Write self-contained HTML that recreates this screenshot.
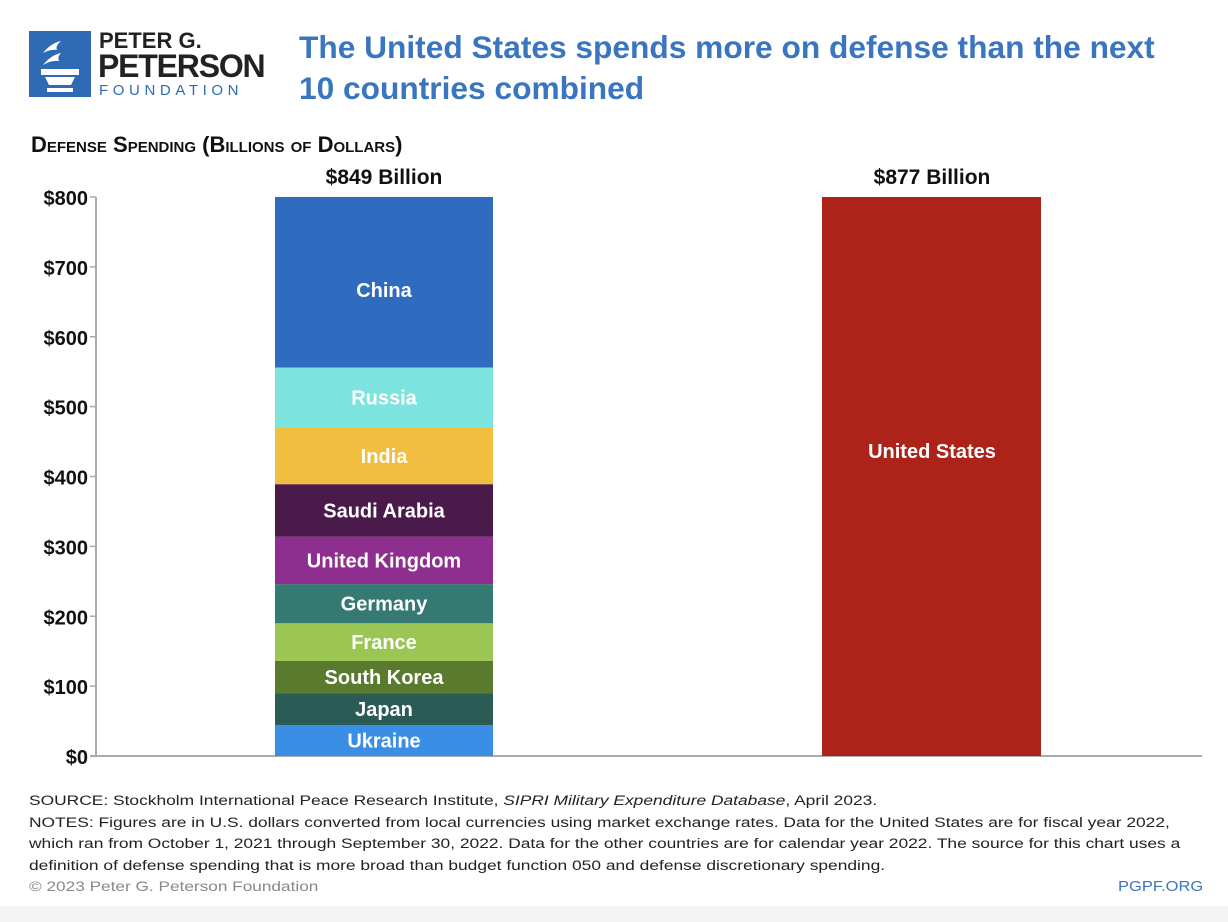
<!DOCTYPE html>
<html><head><meta charset="utf-8"><style>
body{margin:0;width:1228px;height:922px;background:#fff;font-family:"Liberation Sans",sans-serif;overflow:hidden;position:relative}
.abs{position:absolute}
</style></head><body>
<div class="abs" style="left:29px;top:31px;width:236px;height:68px">
 <svg width="62" height="68"><rect x="0" y="0" width="62" height="66" fill="#2f6bb5"/>
 <path d="M14 22 q8-10 18-12 q-6 5-4 9 q-6-1-14 3z M14 34 q8-10 18-12 q-4 4-2 8 q-8-1-16 4z" fill="#fff"/>
 <rect x="12" y="38" width="38" height="6" fill="#fff"/><path d="M16 46 h30 l-4 8 h-22z" fill="#fff"/><rect x="18" y="57" width="26" height="4" fill="#fff"/></svg>
 <div class="abs" style="left:70px;top:-1px;font-size:22px;font-weight:bold;color:#222;line-height:22px">PETER G.</div>
 <div class="abs" style="left:69px;top:19px;font-size:32px;font-weight:bold;color:#222;line-height:32px;letter-spacing:-1.2px">PETERSON</div>
 <div class="abs" style="left:70px;top:51px;font-size:15px;color:#2f6bb5;letter-spacing:4.6px">FOUNDATION</div>
</div>
<div class="abs" style="left:299px;top:27px;font-size:31.7px;font-weight:bold;color:#3a75bf;line-height:41px">The United States spends more on defense than the next<br>10 countries combined</div>
<div class="abs" style="left:31px;top:132px;font-size:22px;font-weight:bold;color:#111;font-variant:small-caps">Defense Spending (Billions of Dollars)</div>
<svg id="chart" class="abs" style="left:0;top:0" width="1228" height="922"></svg>
<div class="abs" style="left:29px;top:791px;font-size:14.2px;color:#222;line-height:21.5px;width:1100px;white-space:nowrap;transform:scaleX(1.225);transform-origin:0 0">SOURCE: Stockholm International Peace Research Institute, <i>SIPRI Military Expenditure Database</i>, April 2023.<br>NOTES: Figures are in U.S. dollars converted from local currencies using market exchange rates. Data for the United States are for fiscal year 2022,<br>which ran from October 1, 2021 through September 30, 2022. Data for the other countries are for calendar year 2022. The source for this chart uses a<br>definition of defense spending that is more broad than budget function 050 and defense discretionary spending.</div>
<div class="abs" style="left:29px;top:878px;font-size:14px;color:#888;white-space:nowrap;transform:scaleX(1.23);transform-origin:0 0">© 2023 Peter G. Peterson Foundation</div>
<div class="abs" style="left:1118px;top:878px;font-size:15px;color:#3a75bf;white-space:nowrap;transform:scaleX(1.1);transform-origin:0 0">PGPF.ORG</div>
<div class="abs" style="left:0;top:906px;width:1228px;height:16px;background:#f4f4f4"></div>
<script>
const yTicks=[0,100,200,300,400,500,600,700,800];
const countries=["Ukraine","Japan","South Korea","France","Germany","United Kingdom","Saudi Arabia","India","Russia","China"];
const values=[44,46,46,54,56,68,75,81,86,292];
const colors=["#3b8ee6","#2a5b55","#5a7a2e","#9cc653","#357a72","#8e2f8f","#4a1b4a","#f2be3f","#7de3df","#2f6cc0"];
const usValue=[877];
const totals=["$849 Billion","$877 Billion"];
const NS="http://www.w3.org/2000/svg",svg=document.getElementById('chart');
const y=v=>756-Math.min(v,800)*559/800;
function mk(t,a,txt){const e=document.createElementNS(NS,t);for(const k in a)e.setAttribute(k,a[k]);if(txt!=null)e.textContent=txt;svg.appendChild(e);return e;}
const ax=mk('line',{x1:96,x2:96,y1:197,y2:756,stroke:'#aaa','stroke-width':2});

const bx=mk('line',{x1:90,x2:1202,y1:756,y2:756,stroke:'#aaa','stroke-width':2});

yTicks.forEach(v=>{
 const t=mk('line',{x1:90,x2:96,y1:y(v),y2:y(v),stroke:'#aaa','stroke-width':1.5});
 
 const l=mk('text',{x:88,y:y(v)+8,'text-anchor':'end','font-size':20,'font-weight':'bold',fill:'#111'},'$'+v);
 
});
let acc=0;
countries.forEach((c,i)=>{
 const y0=y(acc),y1=y(acc+values[i]);acc+=values[i];
 const r=mk('rect',{x:275,y:y1,width:218,height:y0-y1,fill:colors[i]});
 
 const t=mk('text',{x:384,y:(y0+y1)/2+7+(i===countries.length-1?8:0),'text-anchor':'middle','font-size':20,'font-weight':'bold',fill:'#fff'},c);
 
});
const us=mk('rect',{x:822,y:y(usValue[0]),width:219,height:756-y(usValue[0]),fill:'#ad2219'});

const ul=mk('text',{x:932,y:458,'text-anchor':'middle','font-size':20,'font-weight':'bold',fill:'#fff'},'United States');

[384,932].forEach((cx,i)=>{
 const t=mk('text',{x:cx,y:184,'text-anchor':'middle','font-size':21,'font-weight':'bold',fill:'#111'},totals[i]);
 
});
</script>
</body></html>
